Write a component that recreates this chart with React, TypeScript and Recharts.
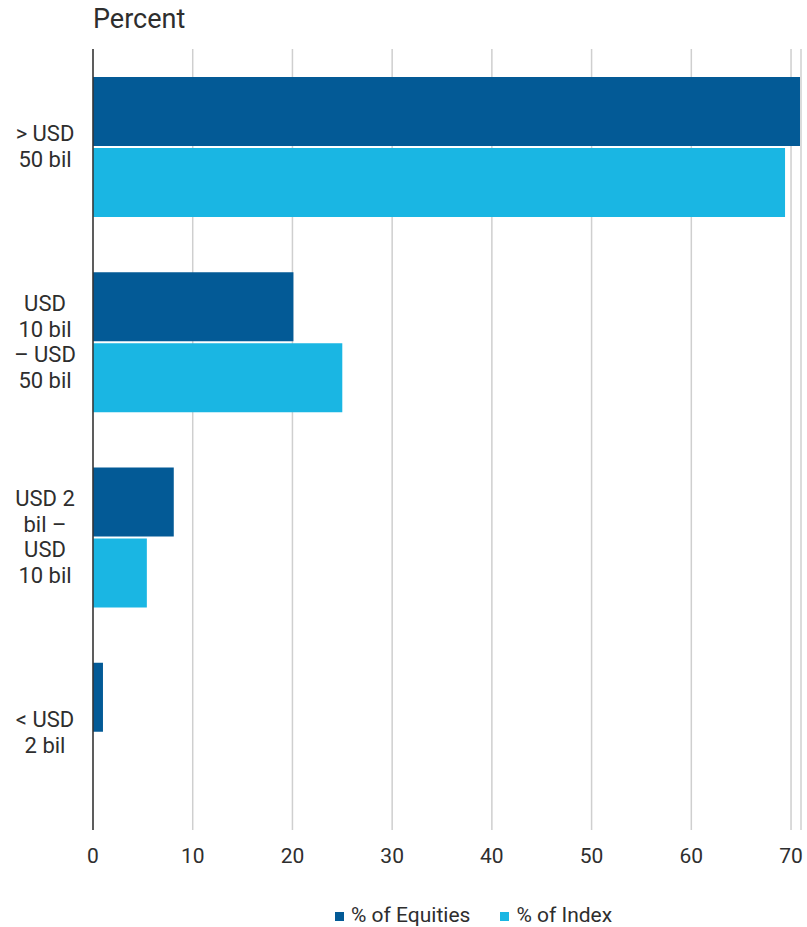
import React from 'react';
import { BarChart, Bar, XAxis, YAxis, CartesianGrid, Legend } from 'recharts';

const categories = [
  '> USD\n50 bil',
  'USD\n10 bil\n– USD\n50 bil',
  'USD 2\nbil –\nUSD\n10 bil',
  '< USD\n2 bil',
];
const equities = [70.9, 20.1, 8.1, 1.0];
const indexShare = [69.4, 25.0, 5.4, 0];
const xTicks = [0, 10, 20, 30, 40, 50, 60, 70];

const seriesNames = { equities: '% of Equities', index: '% of Index' };
const colors = { equities: '#035A96', index: '#1AB6E3' };

const data = categories.map((name, i) => ({
  name,
  equities: equities[i],
  index: indexShare[i],
}));

const FONT = 'Roboto, "Open Sans", sans-serif';
const TEXT = '#2e2e2e';

const YTick = (props: any) => {
  const { y, payload } = props;
  const lines = String(payload.value).split('\n');
  const lh = 25.5;
  const start = -((lines.length - 1) / 2) * lh;
  return (
    <text
      x={45}
      y={y}
      textAnchor="middle"
      fill={TEXT}
      fontSize={22}
      fontFamily={FONT}
    >
      {lines.map((l, i) => (
        <tspan key={i} x={45} dy={i === 0 ? start + 7.5 : lh}>
          {l}
        </tspan>
      ))}
    </text>
  );
};

const LegendContent = () => (
  <div
    style={{
      display: 'flex',
      alignItems: 'center',
      height: 24,
      fontFamily: FONT,
      fontSize: 21,
      color: TEXT,
      whiteSpace: 'nowrap',
    }}
  >
    {(['equities', 'index'] as const).map((k, i) => (
      <div
        key={k}
        style={{ display: 'flex', alignItems: 'center', marginRight: i === 0 ? 30 : 0 }}
      >
        <span
          style={{
            display: 'inline-block',
            width: 9,
            height: 9,
            background: colors[k],
            marginRight: 7,
            marginTop: 3,
          }}
        />
        <span>{seriesNames[k]}</span>
      </div>
    ))}
  </div>
);

export default function App() {
  return (
    <div style={{ position: 'absolute', left: 0, top: 0, width: 807, height: 927, background: '#fff' }}>
      <div
        style={{
          position: 'absolute',
          left: 93,
          top: 3,
          fontFamily: FONT,
          fontSize: 27,
          color: TEXT,
          lineHeight: '32px',
        }}
      >
        Percent
      </div>
      <BarChart
        width={807}
        height={927}
        data={data}
        layout="vertical"
        margin={{ top: 49, right: 6, left: 0, bottom: 8 }}
        barSize={69}
        barGap={2}
      >
        <CartesianGrid horizontal={false} stroke="#cfcfcf" strokeWidth={1.5} />
        <XAxis
          type="number"
          domain={[0, 71]}
          ticks={xTicks}
          axisLine={false}
          tickLine={false}
          tickMargin={12}
          height={65}
          tick={{ fill: TEXT, fontSize: 21, fontFamily: FONT }}
          allowDataOverflow
        />
        <YAxis
          type="category"
          dataKey="name"
          width={93}
          axisLine={{ stroke: '#333', strokeWidth: 1.5 }}
          tickLine={false}
          tick={<YTick />}
          interval={0}
        />
        <Legend
          verticalAlign="bottom"
          content={<LegendContent />}
          wrapperStyle={{ position: 'absolute', left: 335, top: 903, width: 320, height: 24 }}
        />
        <Bar dataKey="equities" name={seriesNames.equities} fill={colors.equities} isAnimationActive={false} />
        <Bar dataKey="index" name={seriesNames.index} fill={colors.index} isAnimationActive={false} />
      </BarChart>
    </div>
  );
}
